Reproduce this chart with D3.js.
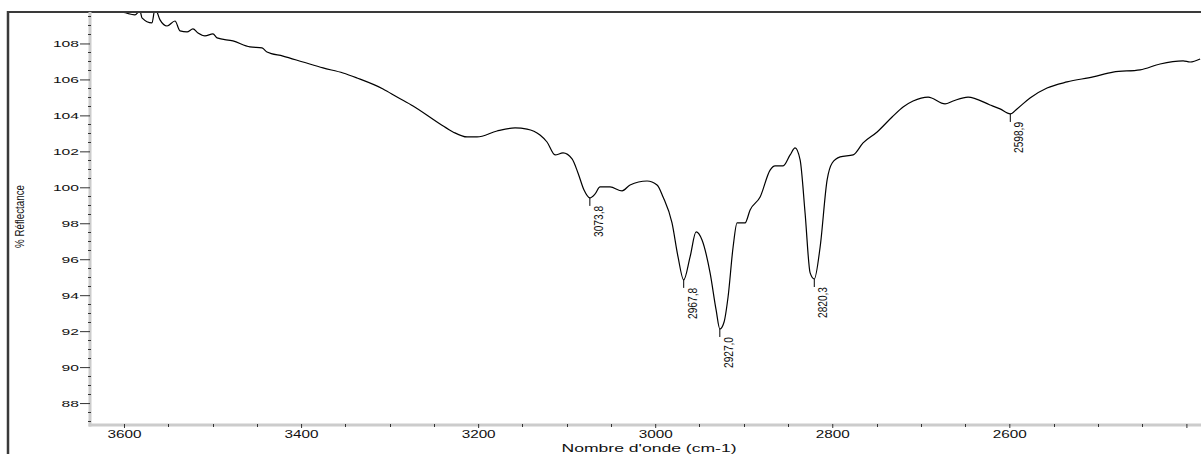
<!DOCTYPE html>
<html><head><meta charset="utf-8">
<script src="https://cdn.jsdelivr.net/npm/d3@7"></script>
<style>body{margin:0;background:#fff}svg{display:block}</style>
</head><body><svg id="c" width="1201" height="454"></svg>
<script>
// Wavenumber (cm-1) and % reflectance
const wavenumbers = [3627.1,3601.1,3587.6,3581.9,3579.7,3568.4,3565.0,3562.7,3559.3,3551.4,3542.4,3536.7,3528.8,3522.1,3516.4,3508.5,3499.5,3494.9,3476.9,3457.7,3444.1,3438.5,3420.4,3397.8,3375.2,3352.6,3336.8,3307.4,3291.6,3273.5,3243.0,3228.4,3212.5,3201.2,3178.7,3158.3,3144.8,3130.1,3122.2,3113.1,3104.1,3093.9,3087.2,3080.4,3073.8,3067.9,3062.3,3051.0,3037.4,3028.4,3009.2,2997.9,2991.1,2981.0,2974.2,2967.8,2960.6,2953.8,2947.1,2938.0,2931.2,2927.0,2922.2,2917.7,2912.0,2907.5,2898.5,2892.8,2881.5,2870.2,2864.6,2855.5,2847.6,2842.0,2836.3,2830.7,2825.0,2820.3,2813.7,2805.8,2800.1,2791.1,2776.4,2765.2,2749.3,2732.4,2720.0,2708.7,2691.7,2672.6,2663.5,2646.6,2621.8,2610.5,2598.9,2591.3,2576.6,2557.4,2534.8,2505.4,2482.8,2452.3,2429.7,2403.7,2395.8,2384.5];
const reflectance = [110.31,109.75,109.59,109.81,109.42,109.14,109.92,109.75,109.31,108.97,109.25,108.70,108.64,108.81,108.58,108.42,108.53,108.31,108.14,107.81,107.75,107.53,107.30,106.97,106.64,106.36,106.08,105.47,105.02,104.52,103.52,103.08,102.80,102.80,103.13,103.30,103.24,102.91,102.52,101.80,101.91,101.58,100.80,99.85,99.41,99.63,100.02,100.02,99.80,100.13,100.35,100.13,99.46,98.02,96.13,94.85,96.13,97.52,97.07,95.24,93.18,92.12,92.51,93.90,96.68,98.02,98.02,98.74,99.46,100.96,101.19,101.19,101.80,102.19,101.52,98.57,95.24,94.90,96.68,100.41,101.35,101.69,101.80,102.47,103.08,103.91,104.47,104.80,105.02,104.64,104.80,105.02,104.58,104.36,104.08,104.36,104.97,105.52,105.86,106.14,106.41,106.53,106.86,107.03,106.97,107.14];

const yTicks = [88,90,92,94,96,98,100,102,104,106,108];
const xTicks = [3600,3400,3200,3000,2800,2600,2400];
const xTickLabels = ["3600","3400","3200","3000","2800","2600",""];
const peakWn = [3073.8,2967.8,2927.0,2820.3,2598.9];
const peakLabels = ["3073,8","2967,8","2927,0","2820,3","2598,9"];
const yTitle = "% Réflectance";
const xTitle = "Nombre d'onde (cm-1)";

const svg = d3.select("#c");
const L = 90, R = 1201, T = 12, B = 425;
const x = d3.scaleLinear().domain([3638.4, 2383.5]).range([L, R]);
const y = d3.scaleLinear().domain([86.78, 109.75]).range([B, T]);
const font = "'Liberation Sans', Arial, sans-serif";
const ink = "#333";

// frame
svg.append("line").attr("x1",8).attr("x2",8).attr("y1",11).attr("y2",454)
  .attr("stroke","#3a3a3a").attr("stroke-width",2.5);
svg.append("line").attr("x1",7).attr("x2",1201).attr("y1",12).attr("y2",12)
  .attr("stroke","#3a3a3a").attr("stroke-width",2);

// axis bars
svg.append("rect").attr("x",L-1.5).attr("y",T).attr("width",3).attr("height",B-T+1.5).attr("fill","#cccccc");
svg.append("rect").attr("x",L-1.5).attr("y",B-1.5).attr("width",R-L+1.5).attr("height",3).attr("fill","#cccccc");

// y axis
const yMinor = d3.range(87, 109.76, 0.5).filter(v => !yTicks.includes(v));
svg.append("g").selectAll("line").data(yMinor).join("line")
  .attr("x1",L-2).attr("x2",L+1).attr("y1",d=>Math.round(y(d))+0.5).attr("y2",d=>Math.round(y(d))+0.5)
  .attr("stroke",ink).attr("stroke-width",1);
const yAxis = d3.axisLeft(y).tickValues(yTicks).tickSize(10).tickPadding(1).tickFormat(d3.format("d"));
const gy = svg.append("g").attr("transform",`translate(${L},0)`).call(yAxis);
gy.select(".domain").remove();
gy.selectAll(".tick line").attr("stroke",ink);
gy.selectAll(".tick text").attr("font-family",font).attr("font-size",9.5).attr("fill","#111")
  .attr("textLength",d=>String(d).length*8.7).attr("lengthAdjust","spacingAndGlyphs");

// x axis
const xMinor = d3.range(3600, 2383, -50).filter(v => !xTicks.includes(v));
svg.append("g").selectAll("line").data(xMinor).join("line")
  .attr("x1",d=>Math.round(x(d))+0.5).attr("x2",d=>Math.round(x(d))+0.5).attr("y1",B-1).attr("y2",B+2)
  .attr("stroke",ink).attr("stroke-width",1);
const xAxis = d3.axisBottom(x).tickValues(xTicks).tickSize(4).tickPadding(3)
  .tickFormat((d,i) => xTickLabels[i]);
const gx = svg.append("g").attr("transform",`translate(0,${B-1})`).call(xAxis);
gx.select(".domain").remove();
gx.selectAll(".tick line").attr("stroke",ink);
gx.selectAll(".tick text").attr("font-family",font).attr("font-size",10).attr("fill","#111")
  .attr("textLength",(d,i)=>xTickLabels[i].length ? 34 : null).attr("lengthAdjust","spacingAndGlyphs");

// titles
svg.append("text").attr("x",649).attr("y",452).attr("text-anchor","middle")
  .attr("font-family",font).attr("font-size",10).attr("fill","#111")
  .attr("textLength",175).attr("lengthAdjust","spacingAndGlyphs").text(xTitle);
svg.append("text").attr("transform","translate(24,216.5) rotate(-90)").attr("text-anchor","middle")
  .attr("font-family",font).attr("font-size",12).attr("fill","#111")
  .attr("textLength",63).attr("lengthAdjust","spacingAndGlyphs").text(yTitle);

// spectrum
svg.append("clipPath").attr("id","clip").append("rect")
  .attr("x",L).attr("y",T+1).attr("width",R-L).attr("height",B-T-2);
const data = wavenumbers.map((w,i)=>({w, r: reflectance[i]}));
const line = d3.line().x(d=>x(d.w)).y(d=>y(d.r)).curve(d3.curveMonotoneX);
svg.append("path").datum(data).attr("clip-path","url(#clip)")
  .attr("fill","none").attr("stroke","#000").attr("stroke-width",1.2).attr("d",line);

// peak labels
function valueAt(w){
  for (let i=0;i<data.length-1;i++){
    const a=data[i], b=data[i+1];
    if (w<=a.w && w>=b.w){ const t=(a.w-w)/(a.w-b.w); return a.r+t*(b.r-a.r); }
  }
  return data[data.length-1].r;
}
const pg = svg.append("g");
peakWn.forEach((w,i)=>{
  const px = x(w), py = y(valueAt(w));
  pg.append("line").attr("x1",px).attr("x2",px).attr("y1",py).attr("y2",py+8)
    .attr("stroke","#000").attr("stroke-width",1);
  pg.append("text").attr("transform",`translate(${px+13},${py+8}) rotate(-90)`)
    .attr("text-anchor","end").attr("font-family",font).attr("font-size",13).attr("fill","#111")
    .attr("textLength",31).attr("lengthAdjust","spacingAndGlyphs").text(peakLabels[i]);
});
</script></body></html>
